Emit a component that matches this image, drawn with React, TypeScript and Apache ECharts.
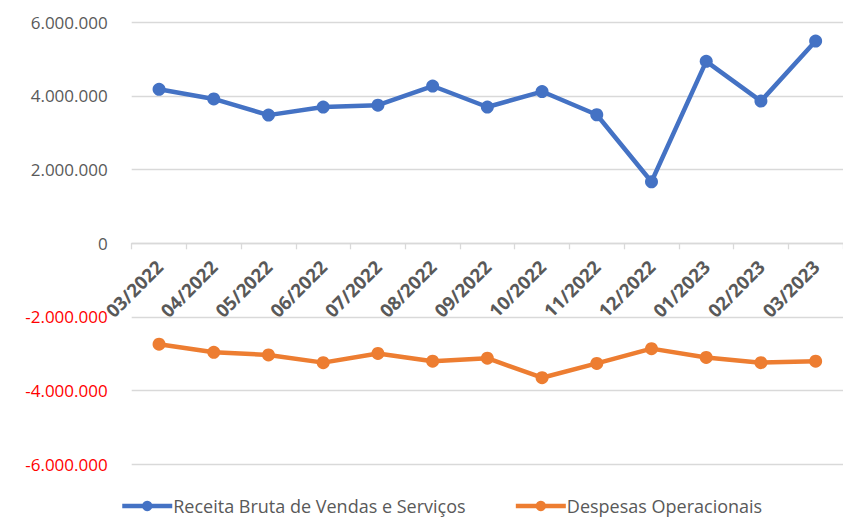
import React, { useEffect, useRef } from "react";
import * as echarts from "echarts";

const categories = [
  "03/2022", "04/2022", "05/2022", "06/2022", "07/2022", "08/2022", "09/2022",
  "10/2022", "11/2022", "12/2022", "01/2023", "02/2023", "03/2023",
];
const receita = [
  4180000, 3920000, 3480000, 3700000, 3750000, 4270000, 3700000,
  4120000, 3490000, 1670000, 4940000, 3860000, 5490000,
];
const despesas = [
  -2740000, -2960000, -3030000, -3240000, -2990000, -3200000, -3120000,
  -3650000, -3260000, -2860000, -3100000, -3240000, -3200000,
];
const seriesNames = ["Receita Bruta de Vendas e Serviços", "Despesas Operacionais"];

const FONT = "Open Sans";

function fmt(v: number): string {
  const s = Math.abs(v).toString().replace(/\B(?=(\d{3})+(?!\d))/g, ".");
  return (v < 0 ? "-" : "") + s;
}

export default function App() {
  const ref = useRef<HTMLDivElement>(null);
  useEffect(() => {
    if (!ref.current) return;
    const chart = echarts.init(ref.current, undefined, { renderer: "svg" });
    const gridTop = 22.3;
    const gridBottomY = 464.3;
    const zeroOffset = (gridBottomY - gridTop) / 2;
    chart.setOption({
      animation: false,
      backgroundColor: "#ffffff",
      textStyle: { fontFamily: FONT },
      grid: { left: 131.7, right: -6.3, top: gridTop, bottom: 519 - gridBottomY },
      legend: {
        left: 120,
        top: 497,
        padding: 0,
        itemWidth: 50,
        itemHeight: 13,
        itemGap: 48,
        lineStyle: { width: 4.5 },
        textStyle: { fontFamily: FONT, fontSize: 18, color: "#595959", lineHeight: 18, padding: [0, 0, 0, -4] },
        data: seriesNames,
      },
      xAxis: {
        type: "category",
        data: categories,
        boundaryGap: true,
        position: "bottom",
        offset: -zeroOffset,
        axisLine: { onZero: false, lineStyle: { color: "#d9d9d9", width: 1.3 } },
        axisTick: { show: true, length: 6, lineStyle: { color: "#d9d9d9", width: 1.3 } },
        axisLabel: {
          rotate: 45,
          interval: 0,
          margin: 20,
          fontFamily: FONT,
          fontSize: 18.5,
          fontWeight: "bold",
          color: "#595959",
        },
      },
      yAxis: {
        type: "value",
        min: -6000000,
        max: 6000000,
        interval: 2000000,
        axisLine: { show: false },
        axisTick: { show: false },
        splitLine: { lineStyle: { color: "#d9d9d9", width: 1.3 } },
        axisLabel: {
          margin: 24,
          fontFamily: FONT,
          fontSize: 17,
          color: (v: any) => (Number(v) < 0 ? "#ff0000" : "#595959"),
          formatter: (v: number) => fmt(v),
        },
      },
      series: [
        {
          name: seriesNames[0],
          type: "line",
          data: receita,
          color: "#4472c4",
          symbol: "circle",
          symbolSize: 13,
          lineStyle: { width: 4.5, color: "#4472c4" },
          itemStyle: { color: "#4472c4" },
        },
        {
          name: seriesNames[1],
          type: "line",
          data: despesas,
          color: "#ed7d31",
          symbol: "circle",
          symbolSize: 13,
          lineStyle: { width: 4.5, color: "#ed7d31" },
          itemStyle: { color: "#ed7d31" },
        },
      ],
    });
    return () => chart.dispose();
  }, []);
  return (
    <div style={{ position: "fixed", left: 0, top: 0, width: 843, height: 519, overflow: "hidden", background: "#fff" }}>
      <div ref={ref} style={{ width: 843, height: 519 }} />
    </div>
  );
}
